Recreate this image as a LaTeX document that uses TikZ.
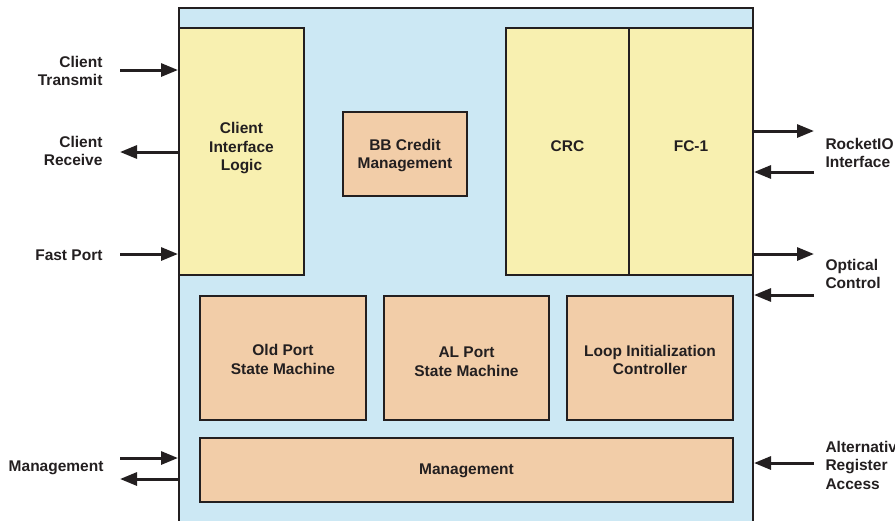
\documentclass[tikz,border=0pt]{standalone}
\usepackage{fontspec}
\setmainfont{Liberation Sans}
\usetikzlibrary{arrows.meta}
\definecolor{bgblue}{HTML}{CCE8F4}
\definecolor{ylw}{HTML}{F8F0B0}
\definecolor{org}{HTML}{F2CDA8}
\definecolor{ink}{HTML}{231F20}
\begin{document}
\begin{tikzpicture}[x=1pt,y=-1pt,
  every node/.style={font=\fontsize{15.5}{18.5}\selectfont\bfseries, text=ink},
  blk/.style={draw=ink, line width=2pt, inner sep=0pt, align=center},
  arr/.style={draw=ink, line width=3pt, -{Triangle[length=17pt,width=13pt]}},
  lbl/.style={align=left, anchor=west},
  lbr/.style={align=right, anchor=east}]
\useasboundingbox (0,0) rectangle (895,520);
\begin{scope}
\clip (0,0) rectangle (895,520);
\node[blk, fill=bgblue, minimum width=574pt, minimum height=514pt] (outer) at (466,265) {};
\end{scope}
% upper blocks
\node[blk, fill=ylw, minimum width=125pt, minimum height=247pt] (cil) at (241.5,151.5) {};
\node[align=center] at (241.5,148.5) {Client\\Interface\\Logic};
\node[blk, fill=org, minimum width=124pt, minimum height=84pt] (bb) at (405,154) {};
\node[align=center] at (405,155.5) {BB Credit\\Management};
\node[blk, fill=ylw, minimum width=123pt, minimum height=247pt] (crc) at (567.5,151.5) {};
\node at (567.5,146) {CRC};
\node[blk, fill=ylw, minimum width=124pt, minimum height=247pt] (fc) at (691,151.5) {};
\node at (691,146) {FC-1};
% lower blocks
\node[blk, fill=org, minimum width=166pt, minimum height=124pt] (old) at (283,358) {};
\node[align=center] at (283,359.5) {Old Port\\State Machine};
\node[blk, fill=org, minimum width=165pt, minimum height=124pt] (al) at (466.5,358) {};
\node[align=center] at (466.5,361.5) {AL Port\\State Machine};
\node[blk, fill=org, minimum width=166pt, minimum height=124pt] (loop) at (650,358) {};
\node[align=center] at (650,360) {Loop Initialization\\Controller};
\node[blk, fill=org, minimum width=533pt, minimum height=64pt] (mgmt) at (466.5,470) {};
\node at (466.5,471) {Management};
% left labels
\node[lbr] (tct) at (106,71) {Client\\Transmit};
\node[lbr] (tcr) at (106,151) {Client\\Receive};
\node[lbr] (tfp) at (106,255) {Fast Port};
\node[lbr] (tmg) at (107,468) {Management};
% right labels
\node[lbl] (tro) at (822,153) {RocketIO\\Interface};
\node[lbl] (toc) at (822,274) {Optical\\Control};
\node[lbl] (tar) at (822,465) {Alternative\\Register\\Access};
% coordinates for free ends
\coordinate (lct) at (120,70);
\coordinate (lcr) at (120,152);
\coordinate (lfp) at (120,254);
\coordinate (lm1) at (120,458);
\coordinate (lm2) at (120,479);
\coordinate (rr1) at (814,131);
\coordinate (rr2) at (814,172);
\coordinate (ro1) at (814,254);
\coordinate (ro2) at (814,295);
\coordinate (ra) at (814,463);
% arrows
\draw[arr] (lct) -- (lct -| outer.west);
\draw[arr] (lcr -| outer.west) -- (lcr);
\draw[arr] (lfp) -- (lfp -| outer.west);
\draw[arr] (lm1) -- (lm1 -| outer.west);
\draw[arr] (lm2 -| outer.west) -- (lm2);
\draw[arr] (rr1 -| outer.east) -- (rr1);
\draw[arr] (rr2) -- (rr2 -| outer.east);
\draw[arr] (ro1 -| outer.east) -- (ro1);
\draw[arr] (ro2) -- (ro2 -| outer.east);
\draw[arr] (ra) -- (ra -| outer.east);
\end{tikzpicture}
\end{document}
